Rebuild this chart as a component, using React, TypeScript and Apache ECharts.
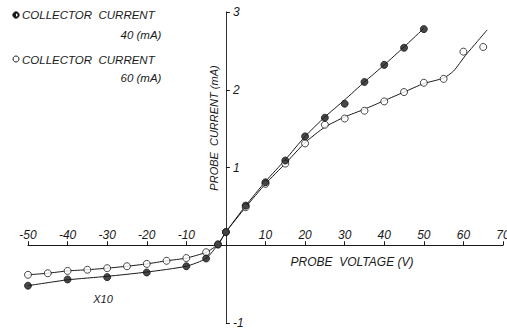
import React, { useEffect, useRef } from "react";
import * as echarts from "echarts";

// Measured points (probe voltage V, probe current mA; negative side is the x10 scale as drawn)
const points40: [number, number][] = [
  [-50, -0.52], [-40, -0.44], [-30, -0.41], [-20, -0.35], [-10, -0.27], [-5, -0.17],
  [-2, 0.01], [0, 0.17], [5, 0.51], [10, 0.81], [15, 1.09], [20, 1.4], [25, 1.64],
  [30, 1.82], [35, 2.1], [40, 2.32], [45, 2.54], [50, 2.78],
];
const points60: [number, number][] = [
  [-50, -0.38], [-45, -0.36], [-40, -0.33], [-35, -0.315], [-30, -0.295], [-25, -0.27],
  [-20, -0.24], [-15, -0.2], [-10, -0.165], [-5, -0.09], [-2, 0.01], [0, 0.17],
  [5, 0.49], [10, 0.79], [15, 1.05], [20, 1.31], [25, 1.55], [30, 1.63], [35, 1.73],
  [40, 1.85], [45, 1.97], [50, 2.09], [55, 2.14], [60, 2.49], [65, 2.55],
];
// Hand-drawn fitted curves
const curve40: [number, number][] = [
  [-50, -0.52], [-40, -0.445], [-30, -0.4], [-20, -0.345], [-10, -0.27], [-5, -0.17],
  [-2, 0.01], [0, 0.17], [5, 0.51], [10, 0.82], [15, 1.1], [20, 1.4], [25, 1.65],
  [30, 1.87], [35, 2.1], [40, 2.32], [45, 2.55], [50, 2.79],
];
const curve60: [number, number][] = [
  [-50, -0.38], [-45, -0.36], [-40, -0.33], [-35, -0.315], [-30, -0.295], [-25, -0.27],
  [-20, -0.24], [-15, -0.2], [-10, -0.165], [-5, -0.09], [-2, 0.01], [0, 0.17],
  [5, 0.49], [10, 0.79], [15, 1.05], [20, 1.32], [25, 1.52], [30, 1.65], [35, 1.75],
  [40, 1.86], [45, 1.97], [50, 2.08], [55, 2.15], [57.5, 2.24], [60.5, 2.44],
  [63.5, 2.62], [66, 2.77],
];
const xRange = { min: -50, max: 70, interval: 10 };
const yRange = { min: -1, max: 3, interval: 1 };
const legendTitle = "COLLECTOR  CURRENT";
const legendUnits = ["40 (mA)", "60 (mA)"];
const xName = "PROBE  VOLTAGE (V)";
const yName = "PROBE  CURRENT (mA)";
const scaleNote = "X10";

const FONT = "'Liberation Sans', Arial, sans-serif";
const INK = "#1a1a1a";

const GRID = { left: 28, right: 4, top: 12, bottom: 7 };
const W = 507;
const H = 330;

export default function App() {
  const ref = useRef<HTMLDivElement>(null);
  useEffect(() => {
    if (!ref.current) return;
    const chart = echarts.init(ref.current, undefined, { renderer: "svg" });
    const txt = (x: number, y: number, text: string, extra: any = {}) => ({
      type: "text",
      x,
      y,
      style: {
        text,
        fill: INK,
        font: `italic 11.5px ${FONT}`,
        textVerticalAlign: "middle",
        ...extra,
      },
    });
    const fmt = (v: number) => (v === 0 ? "" : String(v));
    // place the axes through the origin using offsets from the grid edges
    const plotW = W - GRID.left - GRID.right;
    const plotH = H - GRID.top - GRID.bottom;
    const zeroX = GRID.left + (plotW * (0 - xRange.min)) / (xRange.max - xRange.min);
    const zeroY = GRID.top + (plotH * (yRange.max - 0)) / (yRange.max - yRange.min);
    const xOffset = -(H - GRID.bottom - zeroY);
    const yOffset = -(zeroX - GRID.left);
    chart.setOption({
      animation: false,
      backgroundColor: "#fff",
      grid: { ...GRID, containLabel: false, outerBoundsMode: "none" },
      xAxis: {
        type: "value",
        ...xRange,
        position: "bottom",
        offset: xOffset,
        axisLine: { onZero: false, lineStyle: { color: INK, width: 1 } },
        axisTick: { inside: true, length: 4, lineStyle: { color: INK } },
        axisLabel: {
          inside: true,
          margin: 4,
          formatter: fmt,
          color: INK,
          fontFamily: FONT,
          fontStyle: "italic",
          fontSize: 12,
        },
        splitLine: { show: false },
      },
      yAxis: {
        type: "value",
        ...yRange,
        position: "left",
        offset: yOffset,
        axisLine: { onZero: false, lineStyle: { color: "#333", width: 1 } },
        axisTick: { inside: true, length: 4, lineStyle: { color: INK } },
        axisLabel: {
          inside: true,
          margin: 7,
          formatter: fmt,
          color: INK,
          fontFamily: FONT,
          fontStyle: "italic",
          fontSize: 12,
        },
        splitLine: { show: false },
      },
      graphic: [
        {
          type: "circle",
          shape: { cx: 16, cy: 15, r: 3.2 },
          style: { fill: INK, stroke: INK, lineWidth: 1 },
        },
        {
          type: "sector",
          shape: { cx: 16, cy: 15, r: 1.6, startAngle: -Math.PI / 2, endAngle: Math.PI / 2 },
          style: { fill: "#fff" },
        },
        txt(22, 15, legendTitle),
        txt(141, 35, legendUnits[0], { textAlign: "center" }),
        {
          type: "circle",
          shape: { cx: 16, cy: 59, r: 3 },
          style: { fill: "#fff", stroke: INK, lineWidth: 1 },
        },
        txt(22, 60, legendTitle),
        txt(141, 78, legendUnits[1], { textAlign: "center" }),
        txt(352, 262, xName, { textAlign: "center", font: `italic 12px ${FONT}` }),
        txt(103, 299, scaleNote, { textAlign: "center", font: `italic 11px ${FONT}` }),
        {
          type: "text",
          x: 214,
          y: 128,
          rotation: Math.PI / 2,
          style: {
            text: yName,
            fill: INK,
            font: `italic 11px ${FONT}`,
            textAlign: "center",
            textVerticalAlign: "middle",
          },
        },
      ],
      series: [
        {
          type: "line",
          data: curve40,
          smooth: 0.2,
          showSymbol: false,
          lineStyle: { color: INK, width: 1 },
          z: 2,
        },
        {
          type: "line",
          data: curve60,
          smooth: 0.2,
          showSymbol: false,
          lineStyle: { color: INK, width: 1 },
          z: 2,
        },
        {
          type: "scatter",
          data: points60,
          symbol: "circle",
          symbolSize: 7,
          itemStyle: { color: "#fff", borderColor: INK, borderWidth: 1 },
          z: 3,
        },
        {
          type: "scatter",
          data: points40,
          symbol: "circle",
          symbolSize: 7,
          itemStyle: { color: INK, borderColor: INK, borderWidth: 1 },
          z: 4,
        },
      ],
    });
    return () => chart.dispose();
  }, []);
  return <div ref={ref} style={{ width: W, height: H, position: "absolute", left: 0, top: 0 }} />;
}
